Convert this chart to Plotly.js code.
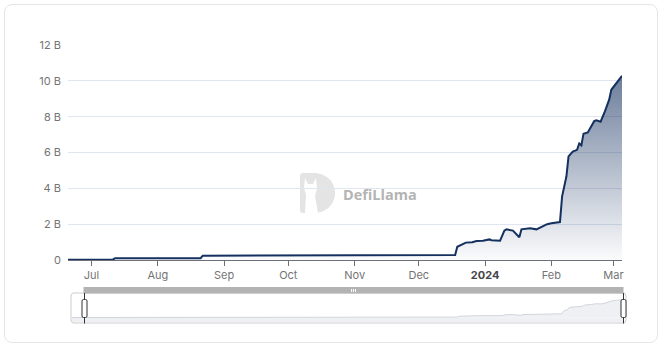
<!DOCTYPE html>
<html>
<head>
<meta charset="utf-8">
<script src="https://cdn.plot.ly/plotly-3.0.1.min.js"></script>
<style>
  html, body { margin: 0; padding: 0; background: #ffffff; }
  #card { position: absolute; left: 4px; top: 4px; width: 654px; height: 339px;
          border: 1px solid #e6e6e6; border-radius: 8px; box-sizing: border-box; }
  #chart { position: absolute; left: 0; top: 0; width: 662px; height: 350px; }
</style>
</head>
<body>
<div id="card"></div>
<div id="chart"></div>
<script>
// ---- data (values in billions USD) ----
const dates = [
  '2023-06-20','2023-07-11','2023-07-12','2023-08-21','2023-08-22','2023-09-15',
  '2023-10-01','2023-10-20','2023-11-10','2023-11-25','2023-12-10','2023-12-18',
  '2023-12-19','2023-12-21','2023-12-23','2023-12-26','2023-12-28','2023-12-31',
  '2024-01-03','2024-01-04','2024-01-08','2024-01-10','2024-01-11','2024-01-14',
  '2024-01-17','2024-01-18','2024-01-22','2024-01-25','2024-01-28','2024-01-30',
  '2024-02-01','2024-02-05','2024-02-06','2024-02-08','2024-02-09','2024-02-11',
  '2024-02-13','2024-02-14','2024-02-15','2024-02-16','2024-02-18','2024-02-20',
  '2024-02-21','2024-02-22','2024-02-24','2024-02-26','2024-02-28','2024-02-29',
  '2024-03-03','2024-03-05'
];
const tvl = [
  0.02, 0.02, 0.10, 0.10, 0.24, 0.25,
  0.24, 0.23, 0.24, 0.26, 0.27, 0.28,
  0.74, 0.87, 0.97, 0.99, 1.06, 1.08,
  1.15, 1.10, 1.08, 1.64, 1.71, 1.64,
  1.27, 1.71, 1.77, 1.71, 1.86, 2.00,
  2.05, 2.12, 3.55, 4.66, 5.78, 6.05,
  6.15, 6.50, 6.40, 7.05, 7.12, 7.55,
  7.75, 7.80, 7.72, 8.30, 8.95, 9.50,
  9.95, 10.28
];
const yTickVals = [0, 2, 4, 6, 8, 10, 12];
const yTickText = ['0', '2 B', '4 B', '6 B', '8 B', '10 B', '12 B'];
const xTickVals = ['2023-07-01','2023-08-01','2023-09-01','2023-10-01','2023-11-01',
                   '2023-12-01','2024-01-01','2024-02-01','2024-03-01'];
const xTickText = ['Jul','Aug','Sep','Oct','Nov','Dec',
                   '<span style="color:#464646"><b>2024</b></span>','Feb','Mar'];

// ---- pixel helpers for decorations (paper coords) ----
const PL = 68, PR = 626, PT = 45, PB = 326;
const fx = px => (px - PL) / (PR - PL);
const fy = py => (PB - py) / (PB - PT);

const main = {
  x: dates, y: tvl, type: 'scatter', mode: 'lines',
  line: { color: '#14305f', width: 2 },
  fill: 'tozeroy',
  fillgradient: { type: 'vertical',
    colorscale: [[0, 'rgba(20,48,95,0.02)'], [1, 'rgba(20,48,95,0.62)']] },
  hoverinfo: 'skip', xaxis: 'x', yaxis: 'y'
};
const mini = {
  x: dates, y: tvl, type: 'scatter', mode: 'lines',
  line: { color: '#d2d5db', width: 1 },
  fill: 'tozeroy', fillcolor: '#eef0f3',
  hoverinfo: 'skip', xaxis: 'x2', yaxis: 'y2'
};

function rect(x0, y0, x1, y1, fill, line, lw, layer) {
  return { type: 'rect', xref: 'paper', yref: 'paper',
    x0: fx(x0), x1: fx(x1), y0: fy(y1), y1: fy(y0),
    fillcolor: fill, line: { color: line || 'rgba(0,0,0,0)', width: lw || 0 },
    layer: layer || 'above' };
}
function vline(x, y0, y1, color, w) {
  return { type: 'line', xref: 'paper', yref: 'paper',
    x0: fx(x), x1: fx(x), y0: fy(y0), y1: fy(y1),
    line: { color: color, width: w } };
}
function roundRectPath(x0, y0, x1, y1, r) {
  const P = (x, y) => fx(x) + ',' + fy(y);
  return 'M' + P(x0 + r, y0) + ' L' + P(x1 - r, y0) + ' Q' + P(x1, y0) + ' ' + P(x1, y0 + r) +
    ' L' + P(x1, y1 - r) + ' Q' + P(x1, y1) + ' ' + P(x1 - r, y1) +
    ' L' + P(x0 + r, y1) + ' Q' + P(x0, y1) + ' ' + P(x0, y1 - r) +
    ' L' + P(x0, y0 + r) + ' Q' + P(x0, y0) + ' ' + P(x0 + r, y0) + ' Z';
}
function logoPath() {
  const P = (x, y) => fx(x) + ',' + fy(y);
  return 'M' + P(300, 176) + ' Q' + P(300, 173) + ' ' + P(303, 173) +
    ' L' + P(314, 173) + ' C' + P(326, 173) + ' ' + P(335, 182) + ' ' + P(335, 193) +
    ' C' + P(335, 204) + ' ' + P(326, 213) + ' ' + P(314, 213) +
    ' L' + P(303, 213) + ' Q' + P(300, 213) + ' ' + P(300, 210) + ' Z';
}
function llamaPath() {
  const P = (x, y) => fx(x) + ',' + fy(y);
  return 'M' + P(305, 213) + ' L' + P(306, 195) + ' L' + P(304, 188) + ' L' + P(305, 178) +
    ' L' + P(308, 184) + ' L' + P(313, 184) + ' L' + P(316, 178) + ' L' + P(317, 188) +
    ' L' + P(315, 196) + ' L' + P(318, 213) + ' Z';
}

const shapes = [
  { type: 'path', xref: 'paper', yref: 'paper', path: logoPath(),
    fillcolor: '#e4e4e4', line: { width: 0 }, layer: 'below' },
  { type: 'path', xref: 'paper', yref: 'paper', path: llamaPath(),
    fillcolor: '#ffffff', line: { width: 0 }, layer: 'below' },
  // mini chart base strip below zero
  { type: 'rect', xref: 'x2 domain', yref: 'y2', x0: 0, x1: 1, y0: -2.5, y1: 0,
    fillcolor: '#eef0f3', line: { width: 0 }, layer: 'below' },
  // slider frame
  { type: 'path', xref: 'paper', yref: 'paper', path: roundRectPath(71, 293, 626, 323, 3),
    fillcolor: 'rgba(0,0,0,0)', line: { color: '#cdcdcd', width: 1 }, layer: 'above' },
  // top bar
  rect(83.5, 287, 623.5, 293.5, '#b3b3b3'),
  // grip
  vline(351.5, 289, 292, '#ffffff', 1),
  vline(353.5, 289, 292, '#ffffff', 1),
  vline(355.5, 289, 292, '#ffffff', 1),
  // handles
  vline(84.5, 293, 323.5, '#333333', 1),
  vline(623.5, 293, 323.5, '#333333', 1),
  { type: 'path', xref: 'paper', yref: 'paper', path: roundRectPath(82, 299.5, 87, 317.5, 1.5),
    fillcolor: '#ffffff', line: { color: '#333333', width: 1 }, layer: 'above' },
  { type: 'path', xref: 'paper', yref: 'paper', path: roundRectPath(621, 299.5, 626, 317.5, 1.5),
    fillcolor: '#ffffff', line: { color: '#333333', width: 1 }, layer: 'above' }
];

const tickFont = { family: 'Inter, "Open Sans", sans-serif', size: 11, color: '#747474' };

const layout = {
  width: 662, height: 350,
  margin: { l: PL, r: 662 - PR, t: PT, b: 350 - PB, pad: 0 },
  paper_bgcolor: 'rgba(0,0,0,0)', plot_bgcolor: 'rgba(0,0,0,0)',
  showlegend: false,
  xaxis: {
    domain: [0, fx(622)], type: 'date', range: ['2023-06-20', '2024-03-05'],
    tickvals: xTickVals, ticktext: xTickText, tickfont: tickFont,
    ticks: 'outside', ticklen: 5, tickcolor: '#6e7079', tickwidth: 1,
    showline: true, linecolor: '#6e7079', linewidth: 1,
    showgrid: false, zeroline: false, fixedrange: true, anchor: 'y'
  },
  yaxis: {
    domain: [fy(260), 1], range: [0, 12],
    tickvals: yTickVals, ticktext: yTickText, tickfont: tickFont,
    ticklabelstandoff: 6,
    showgrid: true, gridcolor: '#e0e6f1', gridwidth: 1,
    zeroline: false, showline: false, ticks: '', fixedrange: true, anchor: 'x'
  },
  xaxis2: {
    domain: [fx(72), fx(623)], type: 'date', range: ['2023-06-20', '2024-03-05'],
    showticklabels: false, showgrid: false, zeroline: false, showline: false,
    ticks: '', fixedrange: true, anchor: 'y2'
  },
  yaxis2: {
    domain: [fy(322), fy(299.3)], range: [-2.5, 10.3],
    showticklabels: false, showgrid: false, zeroline: false, showline: false,
    ticks: '', fixedrange: true, anchor: 'x2'
  },
  shapes: shapes,
  annotations: [{
    xref: 'paper', yref: 'paper', x: fx(341), y: fy(194.5), xanchor: 'left', yanchor: 'middle',
    text: '<b>DefiLlama</b>', showarrow: false,
    font: { family: '"Open Sans", sans-serif', size: 14.5, color: '#b4b4b4' }
  }]
};

Plotly.newPlot('chart', [main, mini], layout, { staticPlot: true, displayModeBar: false });
</script>
</body>
</html>
